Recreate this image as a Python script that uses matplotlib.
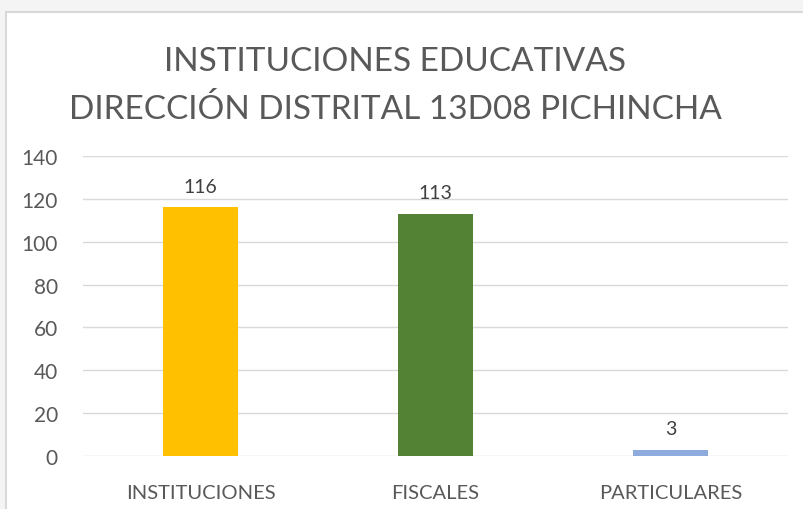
import matplotlib
matplotlib.use("Agg")
import matplotlib.pyplot as plt
from matplotlib.patches import Rectangle

categories = ["INSTITUCIONES", "FISCALES", "PARTICULARES"]
values = [116, 113, 3]
colors = ["#FFC000", "#548235", "#8FAADC"]
yticks = [0, 20, 40, 60, 80, 100, 120, 140]
title = "INSTITUCIONES EDUCATIVAS\nDIRECCIÓN DISTRITAL 13D08 PICHINCHA"

plt.rcParams['font.family'] = ['Lato', 'DejaVu Sans']
fig = plt.figure(figsize=(8.04, 5.10), dpi=100)
fig.patch.set_facecolor("#F4F4F4")
bg = Rectangle((6/804, -0.01), 1, 1.01 - 13/510, transform=fig.transFigure,
               facecolor="white", edgecolor="#D9D9D9", lw=1.5, zorder=-10)
fig.add_artist(bg)

ax = fig.add_axes([83/804, 1 - 457/510, 705/804, 300/510])
ax.set_zorder(5)
ax.set_facecolor("none")
x = range(len(categories))
bars = ax.bar(x, values, width=0.315, color=colors, zorder=3)
for xi, v in zip(x, values):
    ax.text(xi, v + 6, str(v), ha="center", va="bottom", fontsize=14, color="#404040")
ax.set_xlim(-0.5, 2.5)
ax.set_ylim(0, 140)
ax.set_yticks(yticks)
ax.set_xticks(list(x))
ax.set_xticklabels(categories)
ax.grid(axis="y", color="#D9D9D9", lw=1)
ax.set_axisbelow(True)
for s in ax.spines.values():
    s.set_visible(False)
ax.tick_params(length=0, labelsize=14.5, labelcolor="#595959")
ax.tick_params(axis="x", pad=20)
ax.tick_params(axis="y", pad=18)
for lab in ax.get_yticklabels():
    lab.set_fontsize(15)

fig.text(395/804, 1 - 86/510, title, ha="center", va="center", fontsize=24,
         color="#595959", linespacing=1.65, zorder=10)

fig.savefig("out.png", dpi=100, facecolor=fig.get_facecolor())
